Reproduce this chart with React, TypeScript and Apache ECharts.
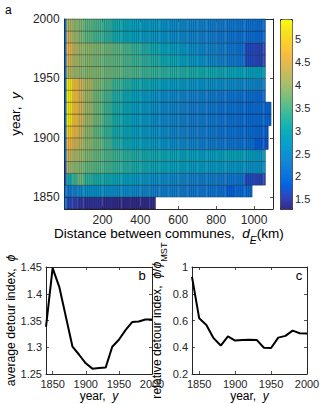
import React, { useEffect, useRef } from 'react';
import * as echarts from 'echarts';

// ---------- Panel a: heat map (value per distance segment, per decade) ----------
const YEARS = [1840, 1850, 1860, 1870, 1880, 1890, 1900, 1910, 1920, 1930, 1940, 1950, 1960, 1970, 1980, 1990];
const ROW_END_KM = [480, 990, 1060, 1060, 1060, 1075, 1075, 1090, 1090, 1060, 1060, 1060, 1060, 1060, 1060, 1060];
const DIST_EDGES = [0, 10, 40, 70, 100, 150, 200, 250, 300, 350, 400, 450, 500, 550, 600, 650, 700, 750, 800, 850, 900, 950, 1000, 1050];

const row1840 = [2.3, 1.6, 1.55, 1.45, 1.4, 1.4, 1.35, 1.33, 1.32, 1.32, 1.33, 1.35];
const row1850 = [2.2, 2.2, 2.3, 2.45, 2.55, 2.55, 2.55, 2.5, 2.5, 2.45, 2.4, 2.35, 2.3, 2.3, 2.25, 2.2, 2.2, 2.15, 2.1, 1.85, 2.0, 2.0];
const row1860 = [1.6, 3.1, 3.4, 3.7, 3.3, 3.15, 3.05, 2.95, 2.85, 2.75, 2.65, 2.55, 2.5, 2.45, 2.4, 2.35, 2.3, 2.3, 2.25, 2.2, 2.15, 1.65, 1.6, 1.6];
const row1870 = [1.6, 4.0, 3.9, 3.8, 3.65, 3.55, 3.45, 3.35, 3.25, 3.15, 3.05, 2.95, 2.9, 2.85, 2.8, 2.75, 2.75, 2.7, 2.7, 2.65, 2.65, 2.6, 2.6, 2.6];
const row1880 = [2.0, 4.3, 4.1, 4.0, 3.8, 3.65, 3.5, 3.4, 3.3, 3.2, 3.1, 3.05, 3.0, 2.95, 2.9, 2.85, 2.8, 2.8, 2.85, 2.9, 2.9, 2.8, 2.75, 2.7];
const row1890 = [2.0, 4.7, 4.4, 4.2, 3.9, 3.7, 3.45, 3.2, 3.0, 2.9, 2.8, 2.7, 2.6, 2.5, 2.45, 2.4, 2.3, 2.25, 2.2, 2.15, 2.1, 2.05, 1.8, 1.75];
const row1900 = [2.0, 5.0, 4.7, 4.3, 3.9, 3.6, 3.35, 3.1, 2.95, 2.8, 2.7, 2.6, 2.5, 2.4, 2.35, 2.3, 2.25, 2.2, 2.15, 2.1, 2.05, 2.0, 1.95, 1.9];
const row1910 = [2.0, 5.3, 4.8, 4.4, 4.0, 3.7, 3.4, 3.15, 2.95, 2.8, 2.7, 2.55, 2.45, 2.4, 2.35, 2.3, 2.25, 2.2, 2.15, 2.1, 2.05, 2.0, 2.0, 1.95];
const row1920 = [2.0, 5.3, 4.8, 4.4, 4.0, 3.7, 3.4, 3.15, 2.95, 2.8, 2.7, 2.55, 2.45, 2.4, 2.35, 2.3, 2.25, 2.2, 2.15, 2.1, 2.05, 2.0, 2.0, 1.95];
const row1930 = [2.0, 5.4, 4.8, 4.4, 4.0, 3.7, 3.45, 3.2, 3.0, 2.85, 2.75, 2.6, 2.5, 2.45, 2.4, 2.35, 2.3, 2.25, 2.2, 2.15, 2.1, 2.05, 2.0, 2.0];
const row1940 = [2.0, 5.3, 4.8, 4.4, 4.1, 3.8, 3.6, 3.4, 3.25, 3.1, 3.0, 2.9, 2.8, 2.75, 2.7, 2.65, 2.6, 2.55, 2.5, 2.5, 2.45, 2.45, 2.4, 2.4];
const row1950 = [2.0, 4.2, 4.0, 3.9, 3.85, 3.8, 3.7, 3.65, 3.55, 3.5, 3.4, 3.35, 3.3, 3.25, 3.2, 3.15, 3.1, 3.05, 3.0, 2.95, 2.9, 2.85, 2.85, 2.8];
const row1960 = [2.0, 4.4, 4.1, 3.95, 3.85, 3.75, 3.65, 3.6, 3.5, 3.4, 3.3, 3.2, 3.05, 2.95, 2.85, 2.7, 2.6, 2.45, 2.35, 2.25, 2.2, 1.65, 1.6, 1.6];
const row1970 = [2.0, 4.6, 4.2, 4.0, 3.9, 3.8, 3.7, 3.6, 3.5, 3.35, 3.2, 3.05, 2.9, 2.8, 2.7, 2.55, 2.45, 2.35, 2.3, 2.2, 2.1, 1.65, 1.6, 1.6];
const row1980 = [2.0, 4.3, 4.0, 3.8, 3.6, 3.45, 3.3, 3.1, 2.95, 2.85, 2.75, 2.65, 2.6, 2.5, 2.45, 2.4, 2.35, 2.3, 2.2, 2.15, 2.1, 2.05, 2.0, 2.0];
const row1990 = [2.0, 4.1, 3.9, 3.8, 3.6, 3.5, 3.3, 3.1, 2.95, 2.85, 2.75, 2.7, 2.6, 2.5, 2.45, 2.4, 2.35, 2.3, 2.25, 2.2, 2.15, 2.1, 2.05, 2.0];
const HEAT_ROWS = [row1840, row1850, row1860, row1870, row1880, row1890, row1900, row1910, row1920, row1930, row1940, row1950, row1960, row1970, row1980, row1990];

const COLOR_MIN = 1.29;
const COLOR_MAX = 5.44;
const COLORBAR_TICKS = [1.5, 2, 2.5, 3, 3.5, 4, 4.5, 5];
const DIST_TICKS = [200, 400, 600, 800, 1000];
const YEAR_TICKS = [1850, 1900, 1950, 2000];

// ---------- Panels b and c ----------
const DETOUR_YEARS = [1840, 1850, 1860, 1870, 1880, 1890, 1900, 1910, 1920, 1930, 1940, 1950, 1960, 1970, 1980, 1990, 2000];
const AVG_DETOUR = [1.338, 1.448, 1.413, 1.357, 1.301, 1.286, 1.27, 1.26, 1.261, 1.262, 1.301, 1.314, 1.332, 1.347, 1.348, 1.352, 1.352];
const REL_DETOUR = [0.926, 0.616, 0.567, 0.468, 0.413, 0.482, 0.45, 0.455, 0.457, 0.455, 0.396, 0.394, 0.472, 0.485, 0.524, 0.505, 0.503];
const AVG_TICKS = [1.25, 1.3, 1.35, 1.4, 1.45];
const REL_TICKS = [0.2, 0.4, 0.6, 0.8, 1];

const PARULA = ['#352a87', '#3243ba', '#0363e1', '#0d75dc', '#1485d4', '#0998d1', '#06a7c6', '#15b1b4', '#38b99e', '#65be86', '#92bf73', '#b7bd64', '#d9ba56', '#f8ba44', '#fcce2e', '#f5e41d', '#f9fb0e'];

const FONT = "'Liberation Sans', Arial, Helvetica, sans-serif";
const AX = '#262626';
const ROW_SPAN = 10;
const CELL_KM = 10;
const plain = (v: number) => String(v);

function buildCells() {
  const cells: number[][] = [];
  HEAT_ROWS.forEach((vals, r) => {
    const year = YEARS[r];
    const end = ROW_END_KM[r];
    vals.forEach((v, i) => {
      const x0 = DIST_EDGES[i];
      const x1 = i + 1 < DIST_EDGES.length ? Math.min(DIST_EDGES[i + 1], end) : end;
      cells.push([x0, x1, year, v, i === vals.length - 1 ? 1 : 0]);
    });
  });
  return cells;
}

function xPair(grid: number, min: number, max: number, ticks: number[], fontSize: number, margin: number, name: any, nameGap: number, nameStyle: any) {
  const tickCfg = { show: true, inside: true, length: 3, customValues: ticks, lineStyle: { color: AX, width: 0.8 } };
  return [
    {
      type: 'value', gridIndex: grid, position: 'bottom', min, max,
      axisLine: { show: true, onZero: false, lineStyle: { color: AX, width: 1 } },
      axisTick: tickCfg,
      axisLabel: { customValues: ticks, color: AX, fontSize, fontFamily: FONT, margin, formatter: plain },
      splitLine: { show: false },
      name, nameLocation: 'middle', nameGap, nameTextStyle: nameStyle,
    },
    {
      type: 'value', gridIndex: grid, position: 'top', min, max,
      axisLine: { show: true, onZero: false, lineStyle: { color: AX, width: 1 } },
      axisTick: tickCfg,
      axisLabel: { show: false },
      splitLine: { show: false },
    },
  ];
}

function yPair(grid: number, min: number, max: number, ticks: number[], fontSize: number, margin: number, name: any, nameGap: number, nameStyle: any) {
  const tickCfg = { show: true, inside: true, length: 3, customValues: ticks, lineStyle: { color: AX, width: 0.8 } };
  return [
    {
      type: 'value', gridIndex: grid, position: 'left', min, max,
      axisLine: { show: true, onZero: false, lineStyle: { color: AX, width: 1 } },
      axisTick: tickCfg,
      axisLabel: { customValues: ticks, color: AX, fontSize, fontFamily: FONT, margin, formatter: plain },
      splitLine: { show: false },
      name, nameLocation: 'middle', nameGap, nameRotate: 90, nameTextStyle: nameStyle,
    },
    {
      type: 'value', gridIndex: grid, position: 'right', min, max,
      axisLine: { show: true, onZero: false, lineStyle: { color: AX, width: 1 } },
      axisTick: tickCfg,
      axisLabel: { show: false },
      splitLine: { show: false },
    },
  ];
}

const richBase = (size: number) => ({
  n: { fontSize: size, fontFamily: FONT, color: '#000' },
  i: { fontSize: size, fontFamily: FONT, color: '#000', fontStyle: 'italic' },
  s: { fontSize: size - 3, fontFamily: FONT, color: '#000', lineHeight: size + 9, verticalAlign: 'bottom' },
  si: { fontSize: size - 3, fontFamily: FONT, color: '#000', fontStyle: 'italic', lineHeight: size + 9, verticalAlign: 'bottom' },
});
const nameStyle = (size: number) => ({ fontSize: size, fontFamily: FONT, color: '#000', rich: richBase(size) });

export default function App() {
  const ref = useRef<HTMLDivElement>(null);
  useEffect(() => {
    if (!ref.current) return;
    const chart = echarts.init(ref.current, null, { renderer: 'svg' });
    const cells = buildCells();

    const xAxes = [
      ...xPair(0, 0, 1100, DIST_TICKS, 12, 5,
        '{n|Distance between communes,  }{i|d}{si|E}{n|(km)}', 13, nameStyle(13.5)),
      ...xPair(1, 1840, 2000, YEAR_TICKS, 11, 4, '{n|year,  }{i|y}', 15, nameStyle(12)),
      ...xPair(2, 1840, 2000, YEAR_TICKS, 11, 4, '{n|year,  }{i|y}', 15, nameStyle(12)),
      { type: 'value', gridIndex: 3, min: 0, max: 1, show: false },
    ];
    const yAxes = [
      ...yPair(0, 1840, 2000, YEAR_TICKS, 12, 5, '{n|year,  }{i|y}', 31, nameStyle(13.5)),
      ...yPair(1, 1.25, 1.45, AVG_TICKS, 11, 4, '{n|average detour index,  }{i|ϕ}', 24, nameStyle(12.2)),
      ...yPair(2, 0.2, 1, REL_TICKS, 11, 4, '{n|relative detour index,  }{i|ϕ}{n|/}{i|ϕ}{s|MST}', 24, nameStyle(12.2)),
      {
        type: 'value', gridIndex: 3, position: 'right', min: COLOR_MIN, max: COLOR_MAX,
        axisLine: { show: false }, axisTick: { show: false }, splitLine: { show: false },
        axisLabel: { customValues: COLORBAR_TICKS, color: AX, fontSize: 11, fontFamily: FONT, margin: 3, formatter: plain },
      },
    ];

    chart.setOption({
      animation: false,
      backgroundColor: '#ffffff',
      textStyle: { fontFamily: FONT },
      grid: [
        { left: 48, top: 19, width: 225, height: 190, containLabel: false },
        { left: 46, top: 267, width: 106, height: 107, containLabel: false },
        { left: 192, top: 267, width: 115, height: 107, containLabel: false },
        { left: 280, top: 19, width: 12, height: 190, containLabel: false },
      ],
      xAxis: xAxes,
      yAxis: yAxes,
      visualMap: {
        type: 'continuous',
        seriesIndex: 0,
        dimension: 3,
        min: COLOR_MIN,
        max: COLOR_MAX,
        calculable: false,
        hoverLink: false,
        left: 280,
        top: 19,
        itemWidth: 12,
        itemHeight: 190,
        padding: 0,
        borderColor: AX,
        borderWidth: 1,
        showLabel: false,
        inRange: { color: PARULA },
      },
      series: [
        {
          type: 'custom',
          xAxisIndex: 0,
          yAxisIndex: 0,
          encode: { x: [0, 1], y: 2 },
          data: cells,
          renderItem: (params: any, api: any) => {
            const x0 = api.value(0);
            const x1 = api.value(1);
            const y = api.value(2);
            const last = api.value(4);
            const tl = api.coord([x0, y + ROW_SPAN]);
            const br = api.coord([x1, y]);
            const children: any[] = [
              { type: 'rect', shape: { x: tl[0], y: tl[1], width: br[0] - tl[0], height: br[1] - tl[1] }, style: { fill: api.visual('color') } },
            ];
            for (let d = x0; d < x1 - 0.5; d += CELL_KM) {
              const px = api.coord([d, y])[0];
              children.push({ type: 'line', shape: { x1: px, y1: tl[1], x2: px, y2: br[1] }, style: { stroke: 'rgba(0,0,0,0.36)', lineWidth: 0.7 } });
            }
            if (last) {
              children.push({ type: 'line', shape: { x1: br[0], y1: tl[1], x2: br[0], y2: br[1] }, style: { stroke: 'rgba(0,0,0,0.5)', lineWidth: 0.7 } });
            }
            children.push({ type: 'line', shape: { x1: tl[0], y1: tl[1], x2: br[0], y2: tl[1] }, style: { stroke: 'rgba(0,0,0,0.5)', lineWidth: 0.8 } });
            children.push({ type: 'line', shape: { x1: tl[0], y1: br[1], x2: br[0], y2: br[1] }, style: { stroke: 'rgba(0,0,0,0.3)', lineWidth: 0.8 } });
            return { type: 'group', children };
          },
        },
        {
          type: 'line', xAxisIndex: 2, yAxisIndex: 2,
          data: DETOUR_YEARS.map((yr, i) => [yr, AVG_DETOUR[i]]),
          symbol: 'none', clip: true,
          lineStyle: { color: '#000', width: 2 },
        },
        {
          type: 'line', xAxisIndex: 4, yAxisIndex: 4,
          data: DETOUR_YEARS.map((yr, i) => [yr, REL_DETOUR[i]]),
          symbol: 'none', clip: true,
          lineStyle: { color: '#000', width: 2 },
        },
      ],
      graphic: [
        { type: 'text', left: 5, top: 4, style: { text: 'a', fontSize: 12, fontFamily: FONT, fill: '#000' } },
        { type: 'text', x: 142, y: 275, style: { text: 'b', fontSize: 13, fontFamily: FONT, fill: '#000', align: 'center', verticalAlign: 'middle' } },
        { type: 'text', x: 299, y: 275, style: { text: 'c', fontSize: 13, fontFamily: FONT, fill: '#000', align: 'center', verticalAlign: 'middle' } },
      ],
    });
    return () => chart.dispose();
  }, []);
  return <div ref={ref} style={{ position: 'fixed', left: 0, top: 0, width: 332, height: 404, background: '#fff' }} />;
}
